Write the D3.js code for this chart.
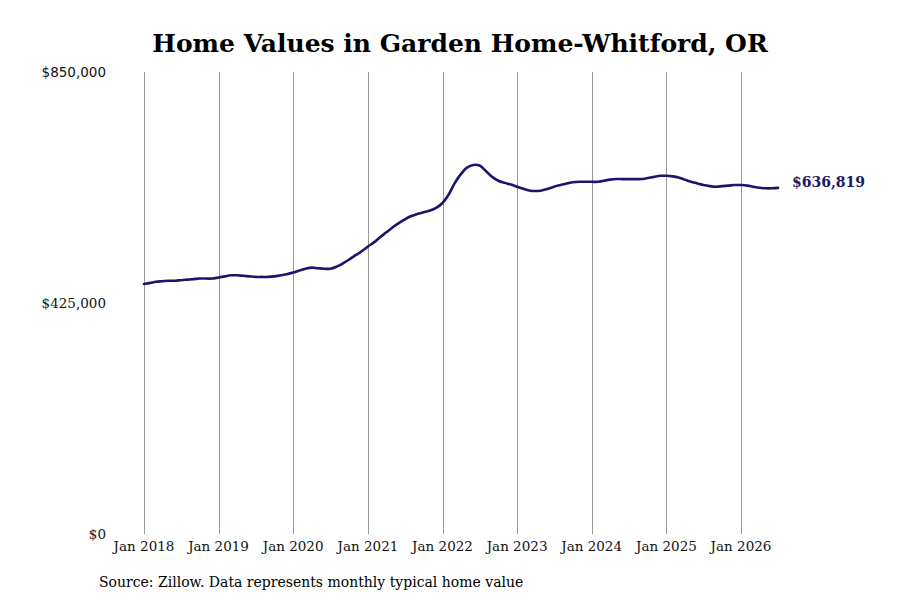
<!DOCTYPE html>
<html>
<head>
<meta charset="utf-8">
<script src="https://cdn.jsdelivr.net/npm/d3@7"></script>
<style>
  html, body { margin: 0; padding: 0; background: #fff; }
  svg { display: block; }
</style>
</head>
<body>
<svg id="chart" width="900" height="600"></svg>
<script>
const title = "Home Values in Garden Home-Whitford, OR";
const source = "Source: Zillow. Data represents monthly typical home value";
const startMonth = "2018-01";
// Monthly typical home values (USD), Jan 2018 .. Jul 2026
const values = [
  460000, 462000, 464000, 465000, 466000, 466000, 467000, 468000, 469000, 470000, 470000, 470000,
  472000, 474000, 476000, 476000, 475000, 474000, 473000, 473000, 473000, 474000, 476000, 478000,
  481000, 485000, 488000, 490000, 489000, 488000, 488000, 492000, 498000, 505000, 513000, 520000,
  529000, 537000, 546000, 555000, 564000, 572000, 579000, 585000, 589000, 592000, 595000, 600000,
  609000, 625000, 645000, 662000, 674000, 679000, 678000, 668000, 657000, 650000, 646000, 643000,
  639000, 635000, 632000, 631000, 632000, 635000, 639000, 642000, 645000, 647000, 648000, 648000,
  648000, 648000, 650000, 652000, 653000, 653000, 653000, 653000, 653000, 655000, 657000, 659000,
  659000, 658000, 656000, 652000, 648000, 645000, 642000, 640000, 639000, 640000, 641000, 642000,
  642000, 641000, 639000, 637000, 636000, 636000, 636819
];
const xTickLabels = ["Jan 2018","Jan 2019","Jan 2020","Jan 2021","Jan 2022","Jan 2023","Jan 2024","Jan 2025","Jan 2026"];
const yTicks = [0, 425000, 850000];
const endLabel = "$636,819";

const parseMonth = d3.timeParse("%Y-%m");
const start = parseMonth(startMonth);
const data = values.map((v, i) => ({ date: d3.timeMonth.offset(start, i), value: v }));
const xTickDates = xTickLabels.map(s => d3.timeParse("%b %Y")(s));

const svg = d3.select("#chart");
const lineColor = "#1a176b";

const x = d3.scaleTime()
  .domain(d3.extent(data, d => d.date))
  .range([144, 778]);
const y = d3.scaleLinear()
  .domain([0, 850000])
  .range([534, 72]);

// vertical grid lines
svg.append("g")
  .selectAll("line")
  .data(xTickDates)
  .join("line")
  .attr("x1", d => Math.round(x(d)) + 0.5)
  .attr("x2", d => Math.round(x(d)) + 0.5)
  .attr("y1", y(850000))
  .attr("y2", y(0))
  .attr("stroke", "#999")
  .attr("stroke-width", 1);

// x labels
svg.append("g")
  .selectAll("text")
  .data(xTickDates)
  .join("text")
  .attr("x", d => x(d))
  .attr("y", 551)
  .attr("text-anchor", "middle")
  .attr("font-family", "DejaVu Serif")
  .attr("font-size", 13.5)
  .attr("fill", "#111")
  .text((d, i) => xTickLabels[i]);

// y labels
const fmt = d3.format("$,.0f");
svg.append("g")
  .selectAll("text")
  .data(yTicks)
  .join("text")
  .attr("x", 106)
  .attr("y", d => y(d) + 5)
  .attr("text-anchor", "end")
  .attr("font-family", d => d === 850000 ? "DejaVu Sans" : "DejaVu Serif")
  .attr("font-size", 13.5)
  .attr("fill", "#111")
  .text(d => fmt(d));

// line
const line = d3.line()
  .x(d => x(d.date))
  .y(d => y(d.value))
  .curve(d3.curveCatmullRom.alpha(0.5));

svg.append("path")
  .datum(data)
  .attr("d", line)
  .attr("fill", "none")
  .attr("stroke", lineColor)
  .attr("stroke-width", 2.6)
  .attr("stroke-linejoin", "round")
  .attr("stroke-linecap", "round");

// end label
const last = data[data.length - 1];
svg.append("text")
  .attr("x", x(last.date) + 14)
  .attr("y", y(last.value) - 1)
  .attr("font-family", "DejaVu Serif")
  .attr("font-weight", "bold")
  .attr("font-size", 14)
  .attr("fill", lineColor)
  .text(endLabel);

// title
svg.append("text")
  .attr("x", 460)
  .attr("y", 52)
  .attr("text-anchor", "middle")
  .attr("font-family", "DejaVu Serif")
  .attr("font-weight", "bold")
  .attr("font-size", 25)
  .attr("fill", "#000")
  .text(title);

// source
svg.append("text")
  .attr("x", 99)
  .attr("y", 587)
  .attr("font-family", "DejaVu Serif")
  .attr("font-size", 14)
  .attr("fill", "#000")
  .text(source);
</script>
</body>
</html>
